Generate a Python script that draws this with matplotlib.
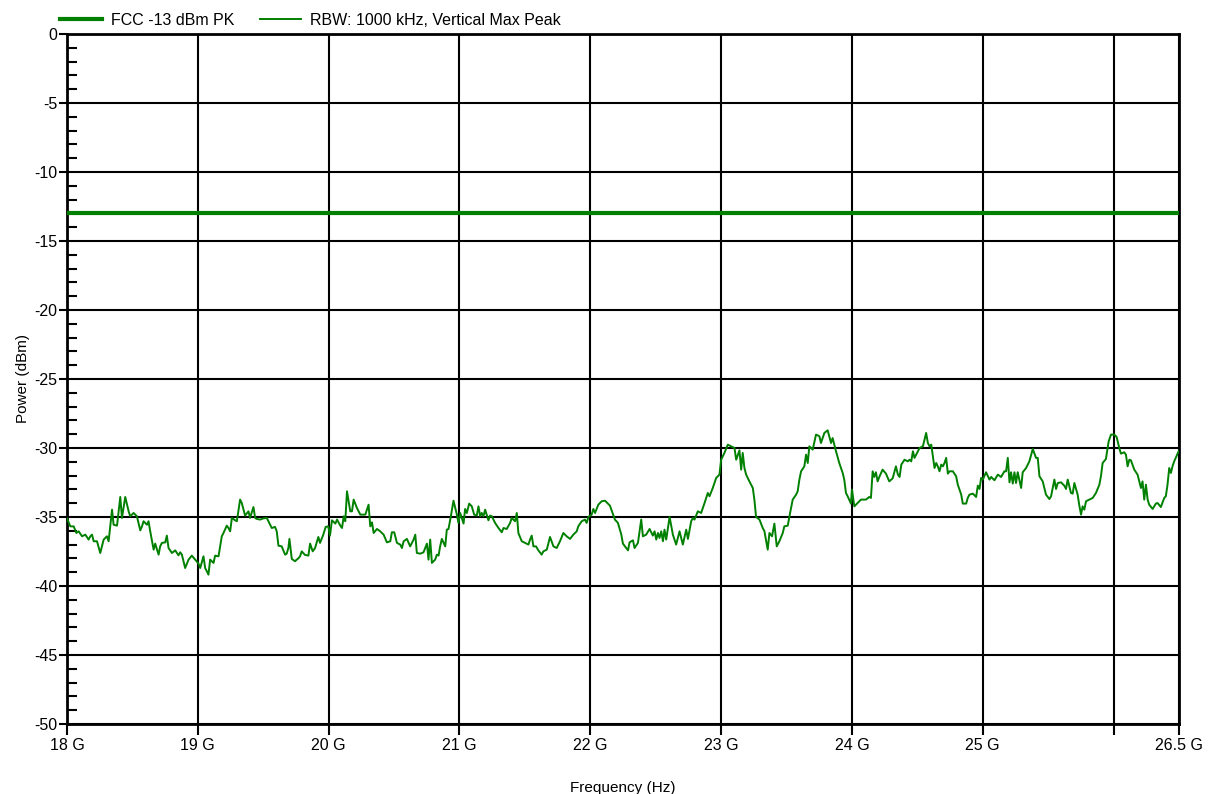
import numpy as np
import matplotlib
matplotlib.use("Agg")
import matplotlib.pyplot as plt
from matplotlib.ticker import FixedLocator, MultipleLocator

plt.rcParams['font.family'] = ['Liberation Sans', 'DejaVu Sans']
plt.rcParams['font.size'] = 11
plt.rcParams['axes.unicode_minus'] = False

# frequency axis in GHz, power in dBm
freq_ghz = [
    18.0, 18.025, 18.051, 18.071, 18.089, 18.115, 18.14, 18.165, 18.178, 18.191,
    18.204, 18.229, 18.254, 18.28, 18.305, 18.318, 18.344, 18.356, 18.382, 18.407,
    18.42, 18.445, 18.471, 18.483, 18.509, 18.534, 18.56, 18.573, 18.585, 18.611,
    18.623, 18.636, 18.662, 18.674, 18.7, 18.712, 18.725, 18.751, 18.763, 18.776,
    18.802, 18.827, 18.852, 18.865, 18.878, 18.903, 18.929, 18.954, 18.98, 19.005,
    19.018, 19.043, 19.056, 19.069, 19.081, 19.094, 19.12, 19.132, 19.158, 19.183,
    19.196, 19.221, 19.234, 19.247, 19.26, 19.285, 19.298, 19.323, 19.336, 19.361,
    19.387, 19.399, 19.425, 19.438, 19.45, 19.476, 19.501, 19.527, 19.552, 19.565,
    19.59, 19.603, 19.616, 19.641, 19.667, 19.679, 19.692, 19.7, 19.718, 19.743,
    19.756, 19.768, 19.781, 19.794, 19.819, 19.845, 19.858, 19.878, 19.896, 19.921,
    19.934, 19.959, 19.977, 19.997, 20.01,
    20.025, 20.051, 20.064, 20.089, 20.102, 20.115, 20.127, 20.14, 20.165, 20.178,
    20.191, 20.216, 20.242, 20.28, 20.305, 20.318, 20.331, 20.344, 20.369, 20.394,
    20.42, 20.445, 20.471, 20.483, 20.501, 20.522, 20.547, 20.56, 20.573, 20.598,
    20.623, 20.649, 20.662, 20.674, 20.7, 20.725, 20.751, 20.763, 20.776, 20.789,
    20.814, 20.827, 20.84, 20.852, 20.865, 20.891, 20.903, 20.916, 20.934, 20.954,
    20.98, 20.992, 21.005, 21.031, 21.043, 21.056, 21.074, 21.094, 21.112, 21.132,
    21.145, 21.158, 21.17, 21.183, 21.196, 21.221, 21.234, 21.247, 21.272, 21.298,
    21.323, 21.336, 21.361, 21.387, 21.399, 21.425, 21.438, 21.45, 21.476, 21.501,
    21.527, 21.539, 21.552, 21.565, 21.585, 21.603, 21.628, 21.641, 21.667, 21.692,
    21.718, 21.743, 21.768, 21.794, 21.819, 21.845, 21.87, 21.896, 21.908, 21.934,
    21.959, 21.972, 21.985, 22.01, 22.023, 22.036, 22.061, 22.087, 22.112, 22.15,
    22.188,
    22.211, 22.237, 22.249, 22.275, 22.288, 22.3, 22.326, 22.338, 22.364, 22.389,
    22.402, 22.427, 22.453, 22.478, 22.491, 22.504, 22.517, 22.529, 22.542, 22.555,
    22.567, 22.58, 22.606, 22.631, 22.656, 22.682, 22.707, 22.733, 22.746, 22.771,
    22.784, 22.796, 22.822, 22.847, 22.873, 22.898, 22.911, 22.936, 22.962, 22.987,
    23.0, 23.025, 23.051, 23.076, 23.102, 23.115, 23.14, 23.153, 23.165, 23.178,
    23.191, 23.216, 23.242, 23.254, 23.267, 23.293, 23.318, 23.331, 23.356, 23.369,
    23.389, 23.407, 23.425, 23.445, 23.471, 23.483, 23.509, 23.527, 23.547, 23.573,
    23.585, 23.598, 23.611, 23.636, 23.649, 23.662, 23.674, 23.7, 23.725, 23.751,
    23.763, 23.789, 23.814, 23.84, 23.852, 23.878, 23.903, 23.929, 23.941, 23.954,
    23.967, 23.992, 24.0, 24.018, 24.043, 24.069, 24.107, 24.132, 24.145, 24.158,
    24.17, 24.183, 24.196, 24.209, 24.234, 24.26, 24.285, 24.311, 24.336,
    24.351, 24.364, 24.377, 24.402, 24.427, 24.44, 24.453, 24.466, 24.478, 24.491,
    24.517, 24.542, 24.567, 24.58, 24.593, 24.606, 24.631, 24.644, 24.656, 24.669,
    24.682, 24.695, 24.707, 24.72, 24.733, 24.746, 24.771, 24.796, 24.809, 24.835,
    24.847, 24.873, 24.885, 24.898, 24.924, 24.949, 24.962, 24.975, 24.987, 25.0,
    25.025, 25.051, 25.064, 25.089, 25.115, 25.14, 25.165, 25.178, 25.191, 25.204,
    25.216, 25.229, 25.242, 25.254, 25.267, 25.293, 25.305, 25.331, 25.356, 25.382,
    25.407, 25.42, 25.433, 25.458, 25.483, 25.509, 25.522, 25.547, 25.56, 25.573,
    25.598, 25.623, 25.636, 25.649, 25.674, 25.687, 25.7, 25.725, 25.738, 25.751,
    25.763, 25.776, 25.789, 25.814, 25.84, 25.865, 25.891, 25.903, 25.916, 25.941,
    25.962, 25.98, 26.005, 26.023, 26.043, 26.056, 26.081, 26.094, 26.107, 26.12,
    26.132, 26.158, 26.183, 26.196, 26.209, 26.221, 26.234, 26.247, 26.26, 26.272,
    26.298, 26.323, 26.336, 26.361, 26.387, 26.399, 26.412, 26.425, 26.438, 26.45,
    26.463, 26.489, 26.5,
]
power_dbm = [
    -35.1, -35.68, -35.68, -36.16, -36.04, -36.4, -36.28, -36.64, -36.4, -36.28,
    -36.76, -36.76, -37.61, -36.64, -36.4, -36.76, -34.47, -35.56, -35.63, -33.55,
    -35.07, -33.55, -34.59, -34.95, -34.71, -34.95, -35.97, -35.68, -35.31, -35.56,
    -35.31, -36.04, -37.37, -36.93, -37.73, -37.13, -36.88, -36.84, -36.35, -37.25,
    -37.61, -37.42, -37.78, -37.56, -37.73, -38.7, -38.09, -37.8, -38.09, -38.38,
    -38.7, -37.85, -38.7, -38.94, -39.18, -38.09, -38.33, -37.8, -37.85, -36.4,
    -36.16, -35.63, -35.8, -36.04, -35.07, -35.24, -35.31, -33.74, -33.99, -34.9,
    -34.59, -35.07, -34.28, -35.07, -35.14, -35.19, -35.1, -35.07, -35.56, -35.8,
    -35.72, -36.04, -37.08, -37.13, -37.73, -37.66, -37.25, -36.59, -38.04, -38.21,
    -38.09, -38.0, -37.85, -37.49, -37.75, -37.8, -36.93, -37.49, -37.25, -36.45,
    -36.88, -36.28, -35.72, -35.68, -36.35,
    -35.24, -35.48, -35.19, -35.63, -35.8, -34.95, -35.31, -33.14, -34.59, -34.59,
    -33.74, -34.35, -34.83, -34.83, -34.11, -35.68, -35.39, -36.16, -35.87, -36.04,
    -36.28, -36.84, -36.76, -36.11, -36.11, -36.88, -37.0, -37.25, -36.76, -36.59,
    -37.13, -36.64, -36.28, -37.61, -37.66, -37.56, -36.93, -38.09, -36.64, -38.33,
    -38.09, -37.73, -37.8, -37.13, -36.59, -37.13, -35.92, -35.87, -34.95, -33.82,
    -34.83, -35.43, -34.71, -35.48, -34.42, -34.71, -34.03, -34.23, -34.83, -34.9,
    -34.23, -34.95, -34.71, -34.95, -34.47, -35.24, -34.9, -34.95, -35.43, -35.8,
    -36.11, -35.8, -35.87, -35.43, -35.07, -35.31, -34.71, -36.16, -36.76, -36.88,
    -37.0, -36.64, -36.35, -37.13, -37.13, -37.42, -37.73, -37.49, -37.37, -36.45,
    -37.13, -37.25, -36.76, -36.16, -36.4, -36.59, -36.28, -36.04, -35.68, -35.31,
    -35.19, -35.43, -35.0, -34.83, -34.42, -34.71, -34.11, -33.86, -33.82, -34.18,
    -35.19,
    -35.43, -36.28, -36.93, -37.25, -37.42, -36.84, -36.69, -37.25, -36.88, -35.19,
    -36.4, -36.28, -35.87, -36.35, -36.04, -36.64, -36.16, -36.52, -36.04, -36.76,
    -35.92, -36.64, -35.0, -36.28, -37.0, -36.04, -37.0, -35.92, -36.59, -35.31,
    -35.07, -35.19, -34.59, -34.71, -33.99, -33.26, -33.5, -32.9, -32.17, -31.93,
    -30.85, -30.36, -29.76, -29.88, -30.0, -30.85, -30.17, -31.57, -30.36, -31.45,
    -31.93, -32.42, -32.9, -33.74, -35.0, -35.19, -35.8, -36.04, -37.37, -36.16,
    -36.4, -35.48, -37.13, -36.76, -36.16, -35.68, -35.63, -34.71, -33.74, -33.38,
    -33.14, -32.29, -31.69, -31.33, -30.48, -31.09, -29.88, -30.12, -29.03, -29.15,
    -29.64, -28.91, -28.72, -29.64, -29.28, -30.24, -31.09, -31.81, -32.29, -33.26,
    -33.5, -34.03, -33.02, -34.23, -33.99, -33.74, -33.74, -33.55, -33.62, -31.69,
    -32.1, -31.76, -32.42, -32.1, -31.57, -31.86, -32.42, -32.2, -31.33,
    -31.93, -32.1, -31.21, -30.85, -30.97, -30.85, -30.97, -30.24, -30.72, -30.48,
    -30.0, -29.88, -28.91, -29.64, -29.88, -29.76, -31.45, -31.09, -31.33, -31.69,
    -31.21, -31.33, -31.09, -30.72, -31.86, -31.69, -31.69, -32.05, -32.66, -33.38,
    -34.03, -34.03, -33.62, -33.38, -33.31, -33.55, -32.73, -32.97, -32.17, -32.29,
    -31.76, -32.29, -32.1, -32.34, -31.93, -32.1, -31.69, -31.69, -30.72, -32.49,
    -31.76, -32.58, -31.76, -32.54, -31.76, -32.9, -31.76, -31.45, -30.97, -30.07,
    -30.72, -30.72, -32.05, -32.42, -33.38, -33.7, -33.5, -32.29, -32.97, -32.54,
    -32.49, -32.73, -32.97, -32.29, -33.26, -33.31, -32.54, -33.38, -34.18, -34.83,
    -34.23, -34.47, -33.86, -33.74, -33.62, -33.26, -32.66, -32.05, -31.09, -30.8,
    -29.52, -29.03, -29.03, -29.2, -30.0, -30.41, -30.31, -30.48, -31.33, -30.85,
    -30.89, -31.57, -31.93, -32.42, -32.9, -32.42, -33.74, -32.66, -33.74, -34.11,
    -34.42, -34.03, -33.99, -34.28, -33.62, -33.5, -32.66, -31.45, -31.81, -31.33,
    -30.97, -30.41, -30.2,
]

limit_dbm = -13
x_ticks = [18, 19, 20, 21, 22, 23, 24, 25, 26, 26.5]
x_tick_labels = ['18 G', '19 G', '20 G', '21 G', '22 G', '23 G', '24 G', '25 G', '', '26.5 G']
y_ticks = list(range(-50, 1, 5))

green = '#008000'

fig = plt.figure(figsize=(12.12, 7.94), dpi=100)
ax = fig.add_axes([0.0553, 0.0882, 0.9175, 0.869])

ax.axhline(limit_dbm, color=green, lw=3, label='FCC -13 dBm PK', zorder=4)
ax.plot(freq_ghz, power_dbm, color=green, lw=1.4, label='RBW: 1000 kHz, Vertical Max Peak', zorder=4)

ax.set_xlim(18, 26.5)
ax.set_ylim(-50, 0)
ax.xaxis.set_major_locator(FixedLocator(x_ticks))
ax.set_xticklabels(x_tick_labels)
ax.yaxis.set_major_locator(FixedLocator(y_ticks))
ax.yaxis.set_minor_locator(MultipleLocator(1))

ax.grid(True, which='major', color='black', lw=1.5)
ax.tick_params(axis='x', which='major', direction='out', length=8, width=1.5, pad=2, labelsize=11.5)
ax.tick_params(axis='y', which='major', direction='out', length=6, width=1.5, pad=1, labelsize=11.5)
ax.tick_params(axis='y', which='minor', direction='in', length=7, width=1.5)
for s in ax.spines.values():
    s.set_linewidth(2)
    s.set_color('black')

ax.set_xlabel('Frequency (Hz)', fontsize=11, labelpad=20)
ax.set_ylabel('Power (dBm)', fontsize=11, labelpad=3)

fig.legend(loc='upper left', bbox_to_anchor=(0.038, 1.002), ncol=2, frameon=False,
           handlelength=2.6, columnspacing=1.6, fontsize=11.5, handletextpad=0.55)

fig.savefig('out.png', dpi=100)
